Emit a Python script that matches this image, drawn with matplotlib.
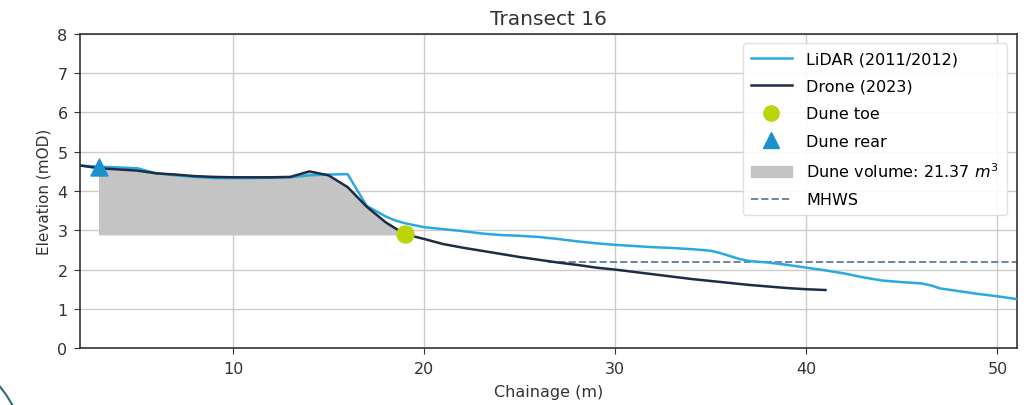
import matplotlib
matplotlib.use("Agg")
import matplotlib.pyplot as plt
from matplotlib.lines import Line2D

# Profiles (chainage m, elevation mOD)
lidar_x = [2, 3, 4, 5, 6, 7, 8, 9, 10, 11, 12, 13, 14, 15, 16, 17, 18, 18.5, 19, 20,
           21, 22, 23, 24, 25, 26, 27, 28, 29, 30, 31, 32, 33, 34, 35, 35.5, 36.5,
           37, 38, 39, 40, 41, 42, 43, 44, 45, 46, 46.5, 47, 48, 49, 50, 51]
lidar_y = [4.65, 4.62, 4.6, 4.58, 4.45, 4.4, 4.36, 4.33, 4.33, 4.33, 4.34, 4.35, 4.4, 4.42,
           4.43, 3.62, 3.35, 3.25, 3.18, 3.08, 3.03, 2.98, 2.92, 2.88, 2.86, 2.83, 2.78, 2.72,
           2.67, 2.63, 2.6, 2.57, 2.55, 2.52, 2.48, 2.42, 2.27, 2.22, 2.18, 2.12, 2.05, 1.98,
           1.9, 1.8, 1.72, 1.68, 1.65, 1.6, 1.52, 1.45, 1.38, 1.32, 1.25]

drone_x = [2, 3, 4, 5, 6, 7, 8, 9, 10, 11, 12, 13, 14, 15, 16, 17, 18, 19, 20, 21, 22,
           23, 24, 25, 26, 27, 28, 29, 30, 31, 32, 33, 34, 35, 36, 37, 38, 39, 40, 41]
drone_y = [4.65, 4.58, 4.55, 4.52, 4.45, 4.42, 4.38, 4.36, 4.35, 4.35, 4.35, 4.36, 4.5, 4.4,
           4.1, 3.6, 3.2, 2.9, 2.78, 2.65, 2.56, 2.48, 2.4, 2.32, 2.25, 2.18, 2.12, 2.05,
           2.0, 1.94, 1.88, 1.82, 1.76, 1.71, 1.66, 1.61, 1.57, 1.53, 1.5, 1.48]

toe_x, toe_y = 19, 2.9
rear_x, rear_y = 3, 4.6
dune_volume = 21.37
mhws_level = 2.2
mhws_start = 26.5

fig = plt.figure(figsize=(10.3, 4.06), dpi=100)
ax = fig.add_axes([0.0777, 0.140, 0.9093, 0.774])

# dune volume: between drone profile and toe level, from rear to toe
fx = [x for x in drone_x if rear_x <= x <= toe_x]
fy = [y for x, y in zip(drone_x, drone_y) if rear_x <= x <= toe_x]
ax.fill_between(fx, toe_y, fy, color="#c4c4c4", zorder=1)

ax.plot(lidar_x, lidar_y, color="#2aa9e0", lw=1.8, zorder=3)
ax.plot(drone_x, drone_y, color="#1d2d45", lw=1.8, zorder=3)
ax.plot([mhws_start, lidar_x[-1]], [mhws_level, mhws_level], color="#6b86a3",
        ls="--", lw=1.4, zorder=2)
ax.scatter([toe_x], [toe_y], s=150, color="#bcd40a", zorder=5)
ax.scatter([rear_x], [rear_y], s=150, marker="^", color="#1b8fd0", zorder=5)

ax.set_xlim(2, 51)
ax.set_ylim(0, 8)
ax.set_xticks([10, 20, 30, 40, 50])
ax.set_yticks(range(0, 9))
ax.grid(True, color="#cccccc", lw=1.0)
ax.set_axisbelow(True)
ax.tick_params(labelsize=11.5, length=4, color="#333333", labelcolor="#333333", pad=5)
for s in ax.spines.values():
    s.set_color("#333333")
    s.set_linewidth(1.2)
ax.set_xlabel("Chainage (m)", fontsize=11.5, color="#333333", labelpad=6)
ax.set_ylabel("Elevation (mOD)", fontsize=11, color="#333333")
ax.set_title("Transect 16", fontsize=14.5, color="#333333", pad=7)

handles = [
    Line2D([0], [0], color="#2aa9e0", lw=1.8, label="LiDAR (2011/2012)"),
    Line2D([0], [0], color="#1d2d45", lw=1.8, label="Drone (2023)"),
    Line2D([0], [0], marker="o", color="none", markerfacecolor="#bcd40a",
           markeredgecolor="#bcd40a", markersize=11, label="Dune toe"),
    Line2D([0], [0], marker="^", color="none", markerfacecolor="#1b8fd0",
           markeredgecolor="#1b8fd0", markersize=11, label="Dune rear"),
    plt.Rectangle((0, 0), 1, 1, color="#c4c4c4",
                  label=f"Dune volume: {dune_volume} $m^3$"),
    Line2D([0], [0], color="#6b86a3", ls="--", lw=1.4, label="MHWS"),
]
leg = ax.legend(handles=handles, loc="upper right", fontsize=11.5,
                framealpha=0.9, edgecolor="#dddddd", borderaxespad=0.6,
                labelspacing=0.78, handlelength=2.6, handletextpad=0.9,
                borderpad=0.5)

# decorative arc from the source document
fig.add_artist(Line2D([0.0, 0.006, 0.012], [0.045, 0.025, 0.0],
                      color="#2c6f73", lw=1.5, transform=fig.transFigure))

fig.savefig("out.png", dpi=100, facecolor="white")
